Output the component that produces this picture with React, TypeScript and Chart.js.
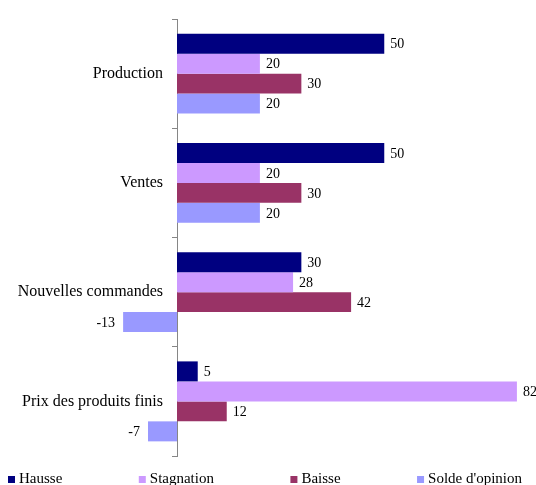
import React, { useEffect, useRef } from "react";
import { Chart, registerables } from "chart.js";

Chart.register(...registerables);

const categories = ["Production", "Ventes", "Nouvelles commandes", "Prix des produits finis"];
const seriesNames = ["Hausse", "Stagnation", "Baisse", "Solde d'opinion"];
const hausse = [50, 50, 30, 5];
const stagnation = [20, 20, 28, 82];
const baisse = [30, 30, 42, 12];
const solde = [20, 20, -13, -7];
const seriesColors = ["#000080", "#CC99FF", "#993366", "#9999FF"];

const FONT = "'Liberation Serif', 'Times New Roman', serif";

const valueLabels = {
  id: "valueLabels",
  afterDatasetsDraw(chart: any) {
    const ctx = chart.ctx;
    ctx.save();
    ctx.font = `14px ${FONT}`;
    ctx.fillStyle = "#000";
    ctx.textBaseline = "middle";
    chart.data.datasets.forEach((ds: any, di: number) => {
      const meta = chart.getDatasetMeta(di);
      meta.data.forEach((el: any, i: number) => {
        const v = ds.data[i];
        const { x, y } = el.getProps(["x", "y"], true);
        if (v >= 0) {
          ctx.textAlign = "left";
          ctx.fillText(String(v), x + 6, y + 1);
        } else {
          ctx.textAlign = "right";
          ctx.fillText(String(v), x - 8, y + 1);
        }
      });
    });
    ctx.restore();
  },
};

const bottomLegend = {
  id: "bottomLegend",
  afterDraw(chart: any) {
    const ctx = chart.ctx;
    ctx.save();
    ctx.font = `15px ${FONT}`;
    const box = 7;
    const gapBox = 4;
    const left = 8;
    const right = 522;
    const baseline = 483;
    const items = chart.data.datasets.map((ds: any) => ({
      label: ds.label,
      color: ds.backgroundColor,
      w: box + gapBox + ctx.measureText(ds.label).width,
    }));
    const total = items.reduce((a: number, b: any) => a + b.w, 0);
    const gap = (right - left - total) / (items.length - 1);
    let x = left;
    ctx.textBaseline = "alphabetic";
    ctx.textAlign = "left";
    items.forEach((it: any) => {
      ctx.fillStyle = it.color;
      ctx.fillRect(x, baseline - box, box, box);
      ctx.fillStyle = "#000";
      ctx.fillText(it.label, x + box + gapBox, baseline);
      x += it.w + gap;
    });
    ctx.restore();
  },
};

export default function App() {
  const ref = useRef<HTMLCanvasElement | null>(null);

  useEffect(() => {
    if (!ref.current) return;
    const series = [hausse, stagnation, baisse, solde];
    const chart = new Chart(ref.current, {
      type: "bar",
      data: {
        labels: categories,
        datasets: series.map((d, i) => ({
          label: seriesNames[i],
          data: d,
          backgroundColor: seriesColors[i],
          borderWidth: 0,
          categoryPercentage: 0.732,
          barPercentage: 1,
          clip: false,
        })),
      },
      options: {
        indexAxis: "y",
        responsive: false,
        animation: false,
        events: [],
        layout: { padding: { left: 0, right: 10.8, top: 19, bottom: 29 } },
        plugins: {
          legend: { display: false },
          tooltip: { enabled: false },
          title: { display: false },
        },
        scales: {
          x: {
            type: "linear",
            display: false,
            min: 0,
            max: 84,
          },
          y: {
            type: "category",
            position: "left",
            offset: true,
            afterFit: (s: any) => {
              s.width = 177;
            },
            grid: {
              offset: true,
              drawOnChartArea: false,
              drawTicks: true,
              tickLength: 5,
              tickColor: "#868686",
            },
            border: { display: true, color: "#868686", width: 1 },
            ticks: {
              color: "#000",
              padding: 9,
              autoSkip: false,
              font: { family: FONT, size: 16 },
            },
          },
        },
      },
      plugins: [valueLabels, bottomLegend],
    } as any);
    return () => chart.destroy();
  }, []);

  return (
    <div style={{ position: "absolute", left: 0, top: 0, width: 536, height: 485, background: "#fff" }}>
      <canvas ref={ref} width={536} height={485} style={{ display: "block" }} />
    </div>
  );
}
